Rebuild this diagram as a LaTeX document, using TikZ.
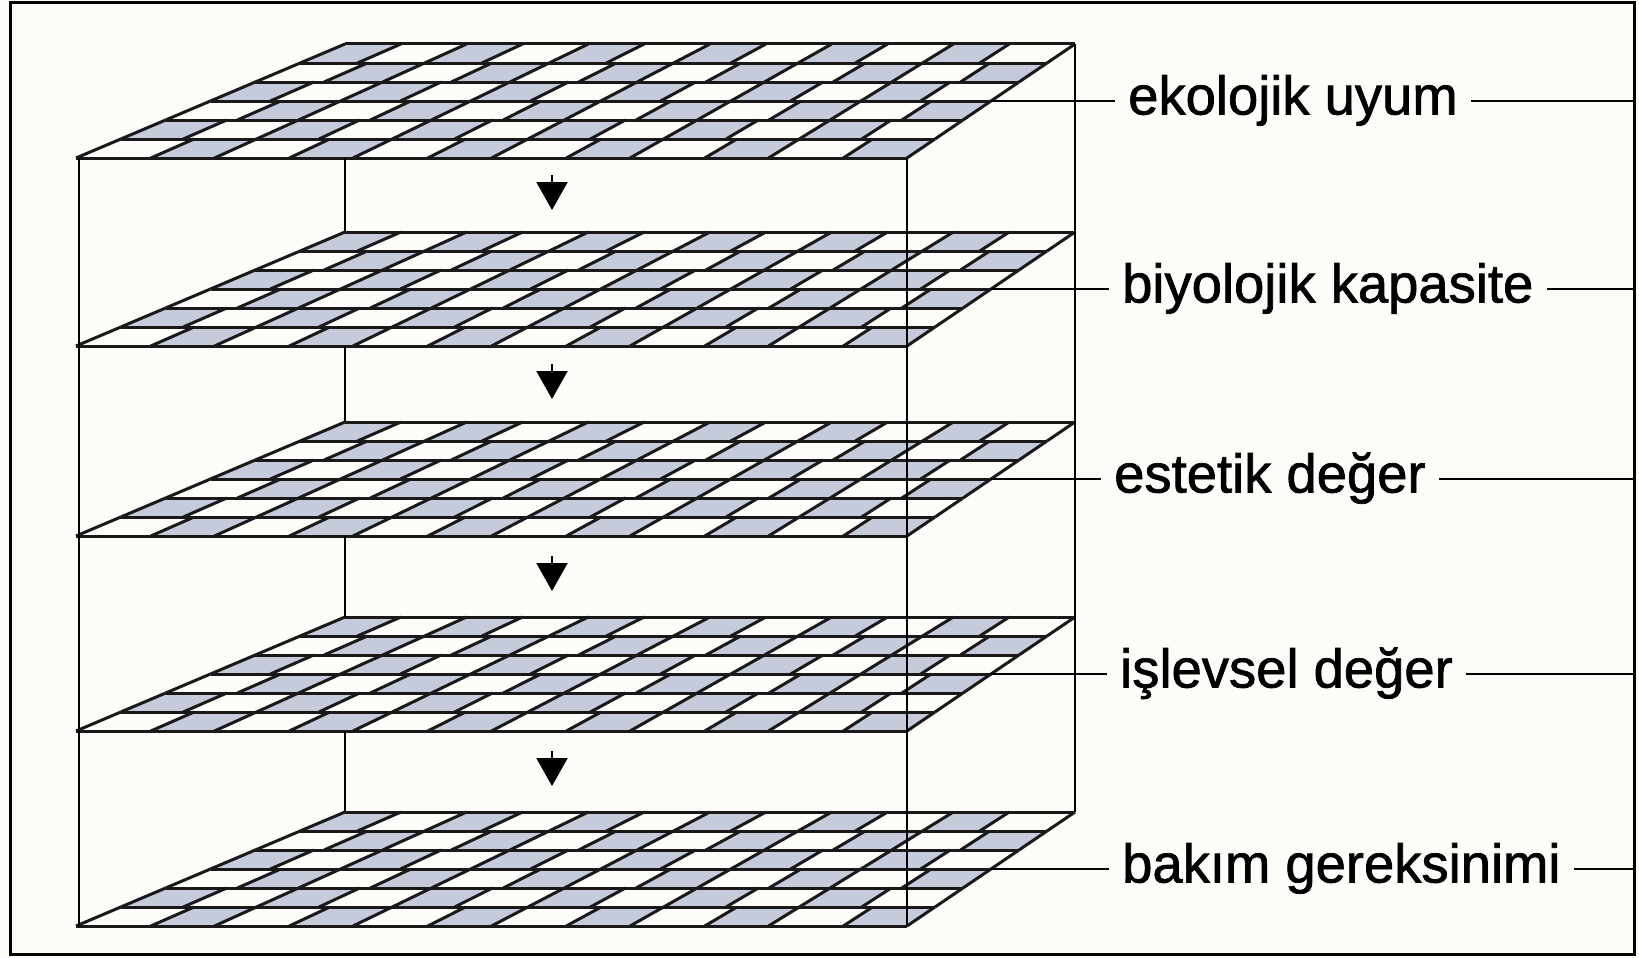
\documentclass[tikz,border=0pt]{standalone}
\usepackage{fontspec}
\setmainfont{Liberation Sans}
\newfontfamily\lblfont[FakeBold=1.3]{Liberation Sans}
\usetikzlibrary{calc,arrows.meta}
\definecolor{bgcol}{RGB}{253,252,249}
\definecolor{cellshade}{RGB}{198,203,220}
\begin{document}
\begin{tikzpicture}[x=1pt,y=-1pt,
  declare function={px(\t,\d)=(1-\d)*(76+\t*831)+\d*(345+\t*730);},
  gridline/.style={line width=3pt,black!90},
  post/.style={line width=2.4pt,black},
  leader/.style={line width=2.4pt,black},
  lbl/.style={anchor=west,inner xsep=13pt,inner ysep=0pt,font=\lblfont\fontsize{54.4pt}{62pt}\selectfont,text height=40pt,text depth=13pt},
  downarrow/.style={line width=2.2pt,-{Triangle[width=31pt,length=28pt]}}]
\fill[bgcol] (0,0) rectangle (1639,958);
\useasboundingbox (0,0) rectangle (1639,958);
\draw[line width=3pt] (10.5,3) rectangle (1634,954);
% layers
\foreach \L/\yb in {1/44,2/232,3/422,4/617,5/812}{
  \pgfmathsetmacro\yf{\yb+114}
  \foreach \r in {0,...,5}{
    \pgfmathsetmacro\da{\r/6}
    \pgfmathsetmacro\db{(\r+1)/6}
    \pgfmathsetmacro\c{ifthenelse(mod(\r,2)==0,0.54,0.46)}
    \foreach \k in {0,...,5}{
      \pgfmathsetmacro\ta{ifthenelse(mod(\r,2)==0,(\k+0.54)/6,\k/6)}
      \pgfmathsetmacro\tb{ifthenelse(mod(\r,2)==0,(\k+1)/6,(\k+0.46)/6)}
      \fill[cellshade] ({px(\ta,\da)},{\yf-\da*114}) -- ({px(\tb,\da)},{\yf-\da*114})
        -- ({px(\tb,\db)},{\yf-\db*114}) -- ({px(\ta,\db)},{\yf-\db*114}) -- cycle;
      \pgfmathsetmacro\tm{(\k+\c)/6}
      \draw[gridline] ({px(\k/6,\da)},{\yf-\da*114}) -- ({px(\k/6,\db)},{\yf-\db*114});
      \draw[gridline] ({px(\tm,\da)},{\yf-\da*114}) -- ({px(\tm,\db)},{\yf-\db*114});
    }
    \draw[gridline] ({px(1,\da)},{\yf-\da*114}) -- ({px(1,\db)},{\yf-\db*114});
  }
  \foreach \r in {0,...,6}{
    \pgfmathsetmacro\dd{\r/6}
    \draw[gridline] ({px(0,\dd)},{\yf-\dd*114}) -- ({px(1,\dd)},{\yf-\dd*114});
  }
  \coordinate (edge\L) at ({px(1,0.5)},{\yf-57});
  \coordinate (frame\L) at (1634,{\yf-57});
}
% posts
\draw[post] (79,158) -- (79,926);
\draw[post] (907,158) -- (907,926);
\draw[post] (1075,44) -- (1075,812);
\foreach \ya/\yb in {158/232,346/422,536/617,731/812}{
  \draw[post] (345,\ya) -- (345,\yb);
}
% arrows between layers
\foreach \m in {195,384,576,771}{
  \draw[downarrow] (552,{\m-20}) -- (552,{\m+15});
}
% labels
\foreach \L/\lx/\txt in {1/1119/ekolojik uyum,2/1113/biyolojik kapasite,3/1105/estetik değer,4/1111/işlevsel değer,5/1113/bakım gereksinimi}{
  \node[lbl] (lab\L) at ($(edge\L)+(\lx-995,0)$) {\txt};
  \draw[leader] (edge\L) -- (lab\L.west);
  \draw[leader] (lab\L.east) -- (frame\L);
}
\end{tikzpicture}
\end{document}
